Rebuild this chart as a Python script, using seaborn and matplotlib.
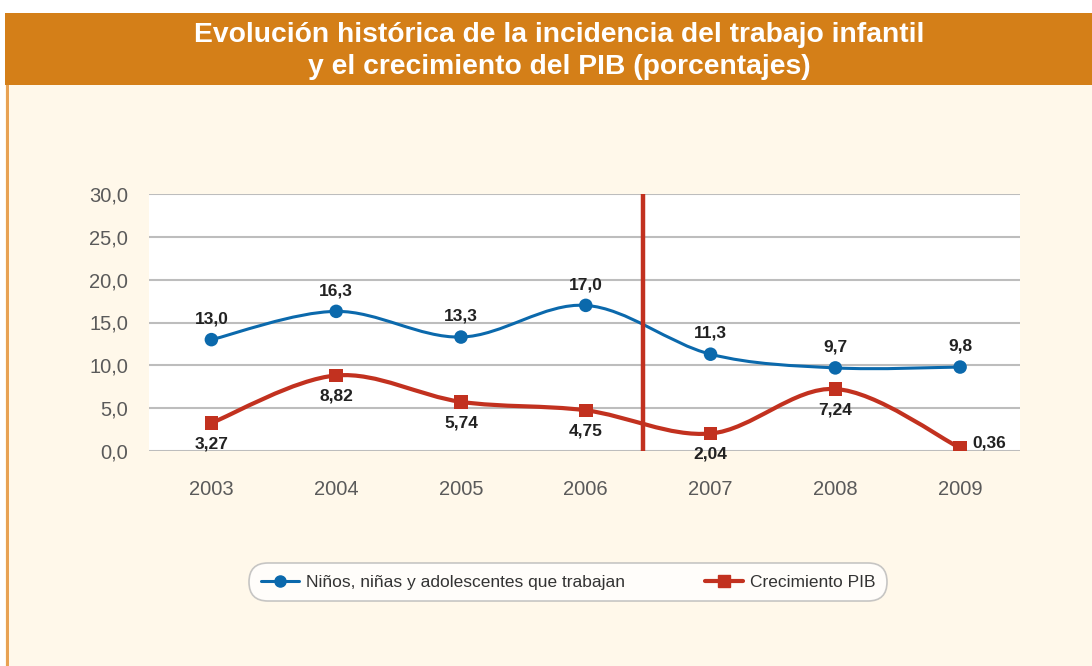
import numpy as np
import pandas as pd
import seaborn as sns
import matplotlib
matplotlib.use("Agg")
import matplotlib.pyplot as plt
from matplotlib.path import Path
from matplotlib.patches import PathPatch, Rectangle
from matplotlib.lines import Line2D

years = ["2003", "2004", "2005", "2006", "2007", "2008", "2009"]
ninos = [13.0, 16.3, 13.3, 17.0, 11.3, 9.7, 9.8]
pib = [3.27, 8.82, 5.74, 4.75, 2.04, 7.24, 0.36]
ninos_lbl = ["13,0", "16,3", "13,3", "17,0", "11,3", "9,7", "9,8"]
pib_lbl = ["3,27", "8,82", "5,74", "4,75", "2,04", "7,24", "0,36"]
yticks = [0, 5, 10, 15, 20, 25, 30]
ytick_lbl = ["0,0", "5,0", "10,0", "15,0", "20,0", "25,0", "30,0"]
titulo = "Evolución histórica de la incidencia del trabajo infantil\ny el crecimiento del PIB (porcentajes)"
serie_names = ["Niños, niñas y adolescentes que trabajan", "Crecimiento PIB"]

BLUE = "#0B69AC"
RED = "#C2311F"
ORANGE = "#D47F18"
CREAM = "#FFF8EA"

sns.set_theme(style="white")
plt.rcParams["font.family"] = ["Liberation Sans", "DejaVu Sans"]

fig = plt.figure(figsize=(10.92, 6.66), dpi=100)
fig.patch.set_facecolor("white")

# cream panel + orange title band + left border
fig.patches.append(Rectangle((5 / 1092, 0), 1, 1 - 85 / 666, transform=fig.transFigure,
                             facecolor=CREAM, edgecolor="none", zorder=-10))
fig.patches.append(Rectangle((5 / 1092, 1 - 85 / 666), 1, 72 / 666, transform=fig.transFigure,
                             facecolor=ORANGE, edgecolor="none", zorder=-10))
fig.patches.append(Rectangle((6 / 1092, 0), 2.5 / 1092, 1 - 85 / 666, transform=fig.transFigure,
                             facecolor="#E8A253", edgecolor="none", zorder=-9))
fig.text(0.512, 1 - 51 / 666, titulo, ha="center", va="center", color="white",
         fontsize=20.3, fontweight="bold", linespacing=1.32)

ax = fig.add_axes([149 / 1092, 1 - 451 / 666, 871 / 1092, 257 / 666])
ax.set_facecolor("white")
x = np.arange(len(years))


def smooth_path(xs, ys):
    # bezier control points like a spreadsheet "smoothed line"
    pts = np.column_stack([xs, ys]).astype(float)
    verts = [pts[0]]
    codes = [Path.MOVETO]
    n = len(pts)
    for i in range(n - 1):
        p0 = pts[max(i - 1, 0)]
        p1 = pts[i]
        p2 = pts[i + 1]
        p3 = pts[min(i + 2, n - 1)]
        c1 = p1 + (p2 - p0) / 6
        c2 = p2 - (p3 - p1) / 6
        verts += [c1, c2, p2]
        codes += [Path.CURVE4] * 3
    return Path(verts, codes)


ax.add_patch(PathPatch(smooth_path(x, ninos), facecolor="none", edgecolor=BLUE, lw=2.2, zorder=3))
ax.add_patch(PathPatch(smooth_path(x, pib), facecolor="none", edgecolor=RED, lw=3.0, zorder=3))

df = pd.DataFrame({"x": np.concatenate([x, x]),
                   "y": ninos + pib,
                   "serie": [serie_names[0]] * 7 + [serie_names[1]] * 7})
sns.scatterplot(data=df, x="x", y="y", hue="serie", style="serie",
                markers={serie_names[0]: "o", serie_names[1]: "s"},
                palette={serie_names[0]: BLUE, serie_names[1]: RED},
                s=95, linewidth=0, legend=False, ax=ax, zorder=4)

ax.axvline(3.46, color=RED, lw=3.2, zorder=5)

for i in range(len(years)):
    ax.annotate(ninos_lbl[i], (x[i], ninos[i]), xytext=(0, 15), textcoords="offset points",
                ha="center", va="center", fontsize=12.5, fontweight="bold", color="#222222")
    if i == 6:
        off, ha, va = (9, 3.5), "left", "center"
    else:
        off, ha, va = (0, -15), "center", "center"
    ax.annotate(pib_lbl[i], (x[i], pib[i]), xytext=off, textcoords="offset points",
                ha=ha, va=va, fontsize=12.5, fontweight="bold", color="#222222")

ax.set_xlim(-0.5, 6.48)
ax.set_ylim(0, 30)
ax.set_yticks(yticks)
ax.set_yticklabels(ytick_lbl)
ax.set_xticks(x)
ax.set_xticklabels(years)
ax.tick_params(axis="both", length=0, labelsize=14.5, colors="#5A5A5A")
ax.tick_params(axis="y", pad=15)
ax.tick_params(axis="x", pad=21)
ax.grid(axis="y", color="#BDBDBD", lw=1.5)
ax.set_axisbelow(True)
ax.set_xlabel("")
ax.set_ylabel("")
for s in ax.spines.values():
    s.set_visible(False)

handles = [Line2D([], [], color=BLUE, lw=2.2, marker="o", markersize=8),
           Line2D([], [], color=RED, lw=3.0, marker="s", markersize=8)]
leg = fig.legend(handles, serie_names, loc="center", bbox_to_anchor=(568 / 1092, 1 - 582 / 666),
                 ncol=2, frameon=True, fancybox=True, fontsize=12.5, handlelength=2.2,
                 handletextpad=0.4, columnspacing=4.6, borderpad=0.65, borderaxespad=0)
leg.get_frame().set_edgecolor("#B8B8B8")
leg.get_frame().set_linewidth(1.2)
leg.get_frame().set_facecolor("white")
leg.get_frame().set_boxstyle("round,pad=0,rounding_size=1.1")
for t in leg.get_texts():
    t.set_color("#333333")

fig.savefig("out.png", dpi=100, facecolor=fig.get_facecolor())
